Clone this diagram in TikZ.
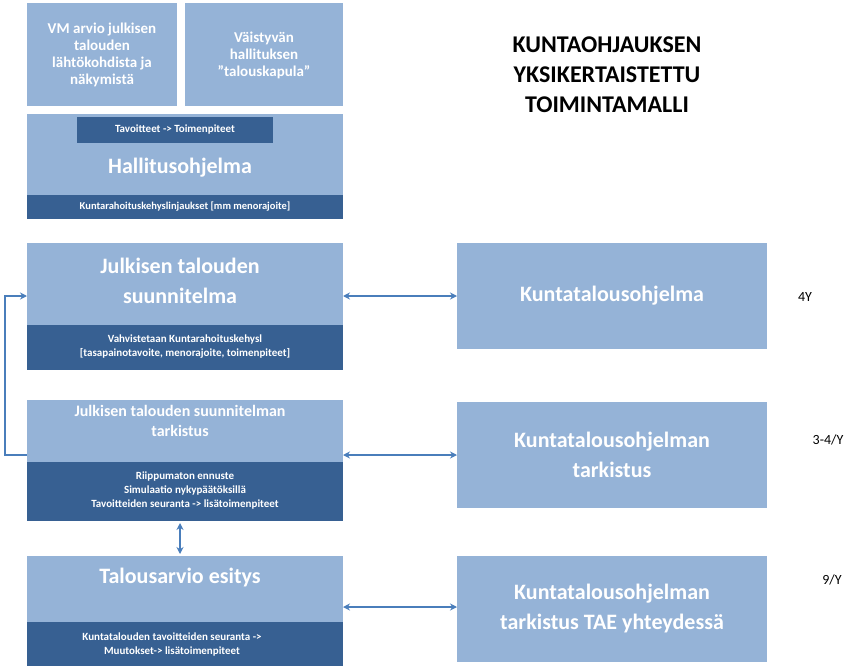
\documentclass[tikz,border=0pt]{standalone}
\usepackage{fontspec}
\setmainfont{Carlito}
\usetikzlibrary{arrows.meta}
\definecolor{lb}{HTML}{95B3D7}
\definecolor{db}{HTML}{376092}
\definecolor{ar}{HTML}{4A7EBB}
\tikzset{
 lbox/.style={fill=lb,draw=white,line width=1pt},
 dbox/.style={fill=db,draw=white,line width=1pt},
 wt/.style={text=white,font=\bfseries,align=center},
 conn/.style={draw=ar,line width=1.5pt,{Stealth[length=7pt,width=7pt]}-{Stealth[length=7pt,width=7pt]}}
}
\begin{document}
\begin{tikzpicture}[x=1pt,y=-1pt]
\useasboundingbox (0,0) rectangle (861,668);
% top small boxes
\fill[lb] (27,3) rectangle (177,106);
\node[wt,font=\bfseries\fontsize{15}{17}\selectfont] (vm) at (102,55) {VM arvio julkisen\\talouden\\lähtökohdista ja\\näkymistä};
\fill[lb] (185,3) rectangle (343,106);
\node[wt,font=\bfseries\fontsize{15}{17}\selectfont] (va) at (264,55) {Väistyvän\\hallituksen\\”talouskapula”};
% hallitusohjelma
\fill[lb] (27,114) rectangle (343,219);
\fill[db] (77,117) rectangle (273,143);
\node[wt,font=\bfseries\fontsize{11}{13}\selectfont] (tt) at (175,130) {Tavoitteet -> Toimenpiteet};
\node[wt,font=\bfseries\fontsize{22}{26}\selectfont] (ho) at (180,168) {Hallitusohjelma};
\fill[db] (27,195) rectangle (343,219);
\node[wt,font=\bfseries\fontsize{10.5}{12}\selectfont] (kr) at (185,207) {Kuntarahoituskehyslinjaukset [mm menorajoite]};
% title
\node[font=\bfseries\fontsize{24}{30}\selectfont,align=center] (title) at (607,75) {KUNTAOHJAUKSEN\\YKSIKERTAISTETTU\\TOIMINTAMALLI};
% JTS
\fill[lb] (27,243) rectangle (343,370);
\fill[db] (27,325) rectangle (343,370);
\node[wt,font=\bfseries\fontsize{22}{30}\selectfont] (jts) at (180,281) {Julkisen talouden\\suunnitelma};
\node[wt,font=\bfseries\fontsize{11}{14}\selectfont] (jtsb) at (185,347) {Vahvistetaan Kuntarahoituskehysl\\ {}[tasapainotavoite, menorajoite, toimenpiteet]};
\coordinate (jl) at (27,296);
\coordinate (jr) at (343,296);
% KTO
\fill[lb] (457,243) rectangle (767,349);
\node[wt,font=\bfseries\fontsize{22}{26}\selectfont] (kto) at (612,296) {Kuntatalousohjelma};
\coordinate (kl) at (457,296);
\node[font=\fontsize{14}{16}\selectfont] (y4) at (805,297) {4Y};
% tarkistus
\fill[lb] (27,400) rectangle (343,521);
\fill[db] (27,462) rectangle (343,521);
\node[wt,font=\bfseries\fontsize{16}{20}\selectfont] (tk) at (180,421) {Julkisen talouden suunnitelman\\tarkistus};
\node[wt,font=\bfseries\fontsize{11}{14}\selectfont] (tkb) at (185,491) {Riippumaton ennuste\\Simulaatio nykypäätöksillä\\Tavoitteiden seuranta -> lisätoimenpiteet};
\coordinate (tl) at (27,455);
\coordinate (tr) at (343,455);
\coordinate (tbot) at (180,523);
\fill[lb] (457,402) rectangle (767,508);
\node[wt,font=\bfseries\fontsize{22}{30}\selectfont] (kt) at (612,455) {Kuntatalousohjelman\\tarkistus};
\coordinate (ktl) at (457,455);
\node[font=\fontsize{14}{16}\selectfont] (y34) at (828,440) {3-4/Y};
% talousarvio
\fill[lb] (27,556) rectangle (343,666);
\fill[db] (27,622) rectangle (343,666);
\node[wt,font=\bfseries\fontsize{22}{26}\selectfont] (ta) at (180,578) {Talousarvio esitys};
\node[wt,font=\bfseries\fontsize{11}{14}\selectfont] (tab) at (172,644) {Kuntatalouden tavoitteiden seuranta ->\\Muutokset-> lisätoimenpiteet};
\coordinate (ttop) at (180,554);
\coordinate (tar) at (343,607);
\fill[lb] (457,556) rectangle (767,662);
\node[wt,font=\bfseries\fontsize{22}{30}\selectfont] (kta) at (612,609) {Kuntatalousohjelman\\tarkistus TAE yhteydessä};
\coordinate (ktal) at (457,607);
\node[font=\fontsize{14}{16}\selectfont] (y9) at (832,580) {9/Y};
% connectors
\draw[conn] (jr) -- (kl);
\draw[conn] (tr) -- (ktl);
\draw[conn] (tar) -- (ktal);
\draw[conn] (tbot) -- (ttop);
\draw[draw=ar,line width=1.5pt,-{Stealth[length=7pt,width=7pt]}] (tl) -- (5,455) -- (5,296) -- (jl);
\end{tikzpicture}
\end{document}
